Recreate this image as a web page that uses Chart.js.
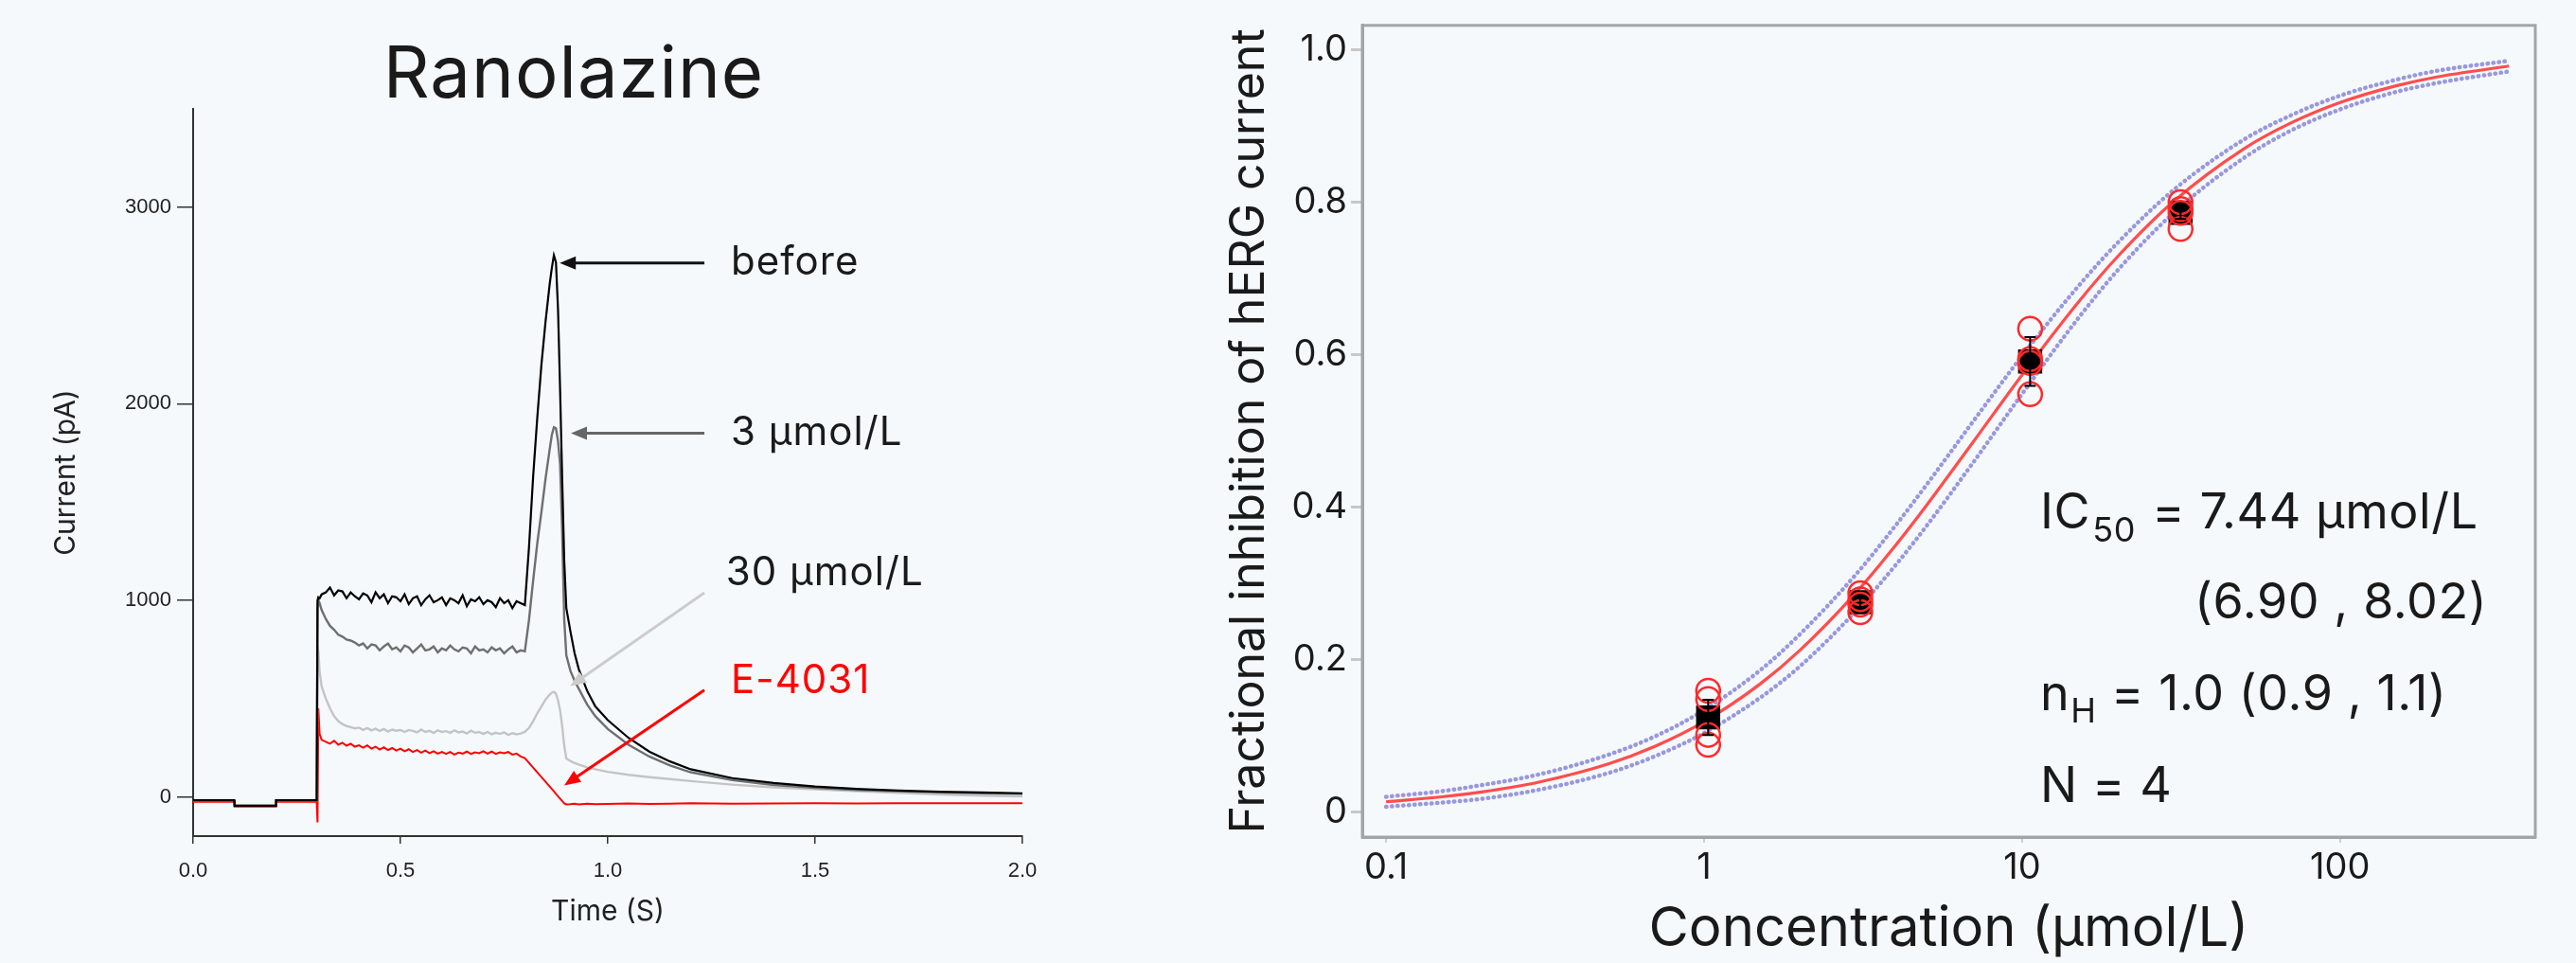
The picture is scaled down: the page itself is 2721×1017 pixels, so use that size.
<!DOCTYPE html>
<html><head><meta charset="utf-8">
<script src="https://cdn.jsdelivr.net/npm/chart.js@4.4.1/dist/chart.umd.min.js"></script>
<style>
html,body{margin:0;padding:0;background:#f6f9fc;width:2721px;height:1017px;overflow:hidden}
#c1{position:absolute;left:0;top:0;width:1150px;height:1017px}
#c2{position:absolute;left:1150px;top:0;width:1571px;height:1017px}
</style></head><body>
<canvas id="c1" width="1150" height="1017"></canvas>
<canvas id="c2" width="1571" height="1017"></canvas>
<script>
// ---------- Left panel data: current traces (pA) vs time (s) ----------
const timeS = [0, 0.099, 0.1, 0.199, 0.2, 0.298, 0.3, 0.302, 0.305, 0.31,
 0.32, 0.33, 0.34, 0.35, 0.36, 0.37, 0.38, 0.39, 0.40,
 0.41, 0.42, 0.43, 0.44, 0.45, 0.46, 0.47, 0.48, 0.49, 0.50,
 0.51, 0.52, 0.53, 0.54, 0.55, 0.56, 0.57, 0.58, 0.59, 0.60,
 0.61, 0.62, 0.63, 0.64, 0.65, 0.66, 0.67, 0.68, 0.69, 0.70,
 0.71, 0.72, 0.73, 0.74, 0.75, 0.76, 0.77, 0.78, 0.79, 0.80,
 0.81, 0.82, 0.83, 0.84, 0.85, 0.86, 0.865, 0.87, 0.875, 0.88, 0.885, 0.89, 0.895, 0.90,
 0.91, 0.92, 0.93, 0.95, 0.97, 1.0, 1.05, 1.1, 1.15, 1.2, 1.3, 1.4, 1.5, 1.6, 1.7, 1.8, 1.9, 2.0];

const beforePA = [-18, -18, -45, -45, -18, -18, 1000, 1015, 1010, 1030,
 1040, 1065, 1025, 1050, 1045, 1010, 1040, 1020, 1005,
 1035, 1025, 990, 1040, 1010, 1030, 985, 1020, 1015, 995,
 1030, 980, 1010, 1020, 975, 1005, 1025, 990, 1000, 1015,
 975, 1010, 1000, 985, 1025, 970, 1005, 995, 1015, 980,
 1000, 990, 965, 1010, 985, 1000, 960, 995, 985, 975,
 1270, 1630, 1930, 2200, 2420, 2610, 2690, 2755, 2720, 2480, 2070, 1620, 1200, 960,
 840, 730, 650, 540, 460, 390, 300, 230, 180, 140, 95, 70, 52, 40, 32, 26, 22, 18];

const uM3PA = [-18, -18, -45, -45, -18, -18, 960, 1000, 985, 950,
 905, 870, 850, 825, 815, 800, 795, 785, 770,
 780, 755, 775, 770, 745, 765, 780, 750, 760, 740,
 770, 760, 735, 755, 775, 745, 750, 765, 735, 755,
 745, 770, 750, 740, 760, 755, 730, 765, 745, 750,
 735, 760, 745, 755, 730, 750, 765, 735, 745, 740,
 900, 1100, 1290, 1450, 1620, 1770, 1840, 1880, 1875, 1810, 1690, 1350, 900, 720,
 640, 590, 550, 470, 410, 345, 265, 205, 160, 125, 85, 60, 45, 35, 28, 22, 18, 15];

const uM30PA = [-18, -18, -45, -45, -18, -18, 760, 740, 640, 560,
 500, 450, 410, 385, 370, 360, 355, 348, 352,
 340, 350, 338, 346, 335, 345, 332, 342, 336, 340,
 330, 340, 335, 328, 342, 330, 336, 325, 338, 330,
 334, 326, 338, 328, 332, 322, 336, 326, 330, 320,
 330, 318, 326, 320, 328, 315, 324, 318, 322, 330,
 350, 385, 425, 460, 495, 520, 530, 534, 525, 490, 440, 360, 260, 195,
 182, 172, 164, 150, 140, 127, 112, 100, 90, 80, 62, 48, 38, 28, 20, 12, 6, 2];

const e4031PA = [-25, -25, -50, -50, -25, -25, -130, 450, 320, 290,
 280, 270, 285, 265, 275, 260, 270, 255, 262,
 250, 262, 245, 255, 240, 252, 238, 248, 235, 245,
 232, 242, 228, 238, 225, 235, 222, 232, 220, 228,
 218, 228, 215, 225, 220, 230, 218, 226, 222, 232,
 220, 230, 218, 226, 222, 228, 215, 220, 205, 197,
 173, 149, 125, 100, 76, 52, 40, 28, 15, 3, -9, -21, -33, -38,
 -37, -35, -38, -35, -37, -36, -34, -36, -35, -33, -35, -34, -32, -34, -33, -32, -33, -32];

const timeTicks = [0, 0.5, 1.0, 1.5, 2.0];
const currentTicks = [0, 1000, 2000, 3000];

// ---------- Right panel data: concentration-response ----------
const concUM = [1.03, 3.1, 10.6, 31.5];
const indivInhib = [
 [0.159, 0.148, 0.101, 0.088],
 [0.287, 0.279, 0.272, 0.262],
 [0.634, 0.594, 0.589, 0.548],
 [0.800, 0.791, 0.786, 0.765]
];
const meanInhib = [0.124, 0.275, 0.591, 0.786];
const semInhib = [0.023, 0.006, 0.032, 0.008];

const fitConc = [0.1, 0.15, 0.2, 0.3, 0.5, 0.7, 1, 1.5, 2, 3, 4, 5, 7, 10, 15, 20, 30, 50, 70, 100, 150, 200, 340];
const fitInhib = [0.0133, 0.0198, 0.0262, 0.0388, 0.0630, 0.0860, 0.1185, 0.1678, 0.2119, 0.2874, 0.3497, 0.4019, 0.4848, 0.5734, 0.6684, 0.7289, 0.8013, 0.8705, 0.9039, 0.9308, 0.9527, 0.9641, 0.9786];
const ciUpper = [0.0198, 0.0273, 0.0352, 0.0488, 0.0750, 0.0990, 0.1335, 0.1858, 0.2329, 0.3114, 0.3757, 0.4289, 0.5118, 0.5984, 0.6894, 0.7469, 0.8163, 0.8825, 0.9139, 0.9398, 0.9607, 0.9721, 0.9856];
const ciLower = [0.0068, 0.0123, 0.0172, 0.0288, 0.0510, 0.0730, 0.1035, 0.1498, 0.1909, 0.2634, 0.3237, 0.3749, 0.4578, 0.5484, 0.6474, 0.7109, 0.7863, 0.8585, 0.8939, 0.9218, 0.9447, 0.9561, 0.9716];

const concTicks = [0.1, 1, 10, 100];
const inhibTicks = [0, 0.2, 0.4, 0.6, 0.8, 1.0];

// ---------- styling ----------
const SANS = "Inter, 'Noto Sans', sans-serif";
const ARIAL = "'Liberation Sans', Arial, sans-serif";
const INK = '#1a1a1a';

function xy(xs, ys){ return xs.map((x,i)=>({x:x, y:ys[i]})); }

function arrow(ctx, x0, y0, x1, y1, color, w){
  const a = Math.atan2(y1-y0, x1-x0), L = 17, H = 7;
  ctx.save();
  ctx.strokeStyle = color; ctx.fillStyle = color; ctx.lineWidth = w;
  ctx.beginPath(); ctx.moveTo(x0, y0);
  ctx.lineTo(x1 - Math.cos(a)*L*0.8, y1 - Math.sin(a)*L*0.8); ctx.stroke();
  ctx.beginPath(); ctx.moveTo(x1, y1);
  ctx.lineTo(x1 - Math.cos(a)*L - Math.sin(a)*H, y1 - Math.sin(a)*L + Math.cos(a)*H);
  ctx.lineTo(x1 - Math.cos(a)*L + Math.sin(a)*H, y1 - Math.sin(a)*L - Math.cos(a)*H);
  ctx.closePath(); ctx.fill();
  ctx.restore();
}

// annotation anchors in data units (time s, current pA)
const leftNotes = [
  {text:'before',    color:INK,    tx:1.297, ty:2716, from:[1.233,2716], to:[0.884,2716], arrowColor:'#111111'},
  {text:'3 µmol/L',  color:INK,    tx:1.297, ty:1850, from:[1.233,1850], to:[0.911,1850], arrowColor:'#666666'},
  {text:'30 µmol/L', color:INK,    tx:1.285, ty:1139, from:[1.233,1038], to:[0.909,562],  arrowColor:'#cccccc'},
  {text:'E-4031',    color:'#ff0000', tx:1.297, ty:587, from:[1.233,543], to:[0.895,58],   arrowColor:'#ff0000'}
];

const leftDecor = {
  id:'leftDecor',
  afterDraw(chart){
    const ctx = chart.ctx, xs = chart.scales.x, ys = chart.scales.y;
    ctx.save();
    ctx.fillStyle = INK;
    ctx.letterSpacing = '1px';
    ctx.font = `400 76px ${SANS}`;
    ctx.textAlign = 'center'; ctx.textBaseline = 'middle';
    ctx.fillText('Ranolazine', 606, 80);
    ctx.font = `400 42px ${SANS}`;
    ctx.textAlign = 'left';
    for (const n of leftNotes){
      arrow(ctx, xs.getPixelForValue(n.from[0]), ys.getPixelForValue(n.from[1]),
                 xs.getPixelForValue(n.to[0]), ys.getPixelForValue(n.to[1]), n.arrowColor, 3);
      ctx.fillStyle = n.color;
      ctx.fillText(n.text, xs.getPixelForValue(n.tx), ys.getPixelForValue(n.ty));
    }
    ctx.restore();
  }
};

new Chart(document.getElementById('c1'), {
  type:'line',
  data:{ datasets:[
    {label:'before', data:xy(timeS, beforePA), borderColor:'#000000', borderWidth:2.2},
    {label:'3 µmol/L', data:xy(timeS, uM3PA), borderColor:'#6f6f6f', borderWidth:2.4},
    {label:'30 µmol/L', data:xy(timeS, uM30PA), borderColor:'#c4c4c4', borderWidth:2.4},
    {label:'E-4031', data:xy(timeS, e4031PA), borderColor:'#ff0000', borderWidth:2}
  ]},
  options:{
    responsive:false, animation:false, devicePixelRatio:1,
    parsing:false,
    elements:{ point:{radius:0}, line:{tension:0, fill:false} },
    layout:{ padding:{left:0, right:70, top:115, bottom:0} },
    plugins:{ legend:{display:false}, tooltip:{enabled:false}, title:{display:false} },
    scales:{
      x:{ type:'linear', min:0, max:2,
        afterBuildTicks:s=>{ s.ticks = timeTicks.map(v=>({value:v})); },
        afterFit:s=>{ s.height = 134; },
        ticks:{ callback:v=>Number(v).toFixed(1), font:{family:ARIAL, size:22}, color:'#222', padding:16, maxRotation:0, autoSkip:false },
        grid:{ display:true, drawOnChartArea:false, drawTicks:true, tickLength:8, color:'#333', lineWidth:1.5 },
        border:{ display:true, color:'#333', width:2 },
        title:{ display:true, text:'Time (S)', font:{family:SANS, size:30}, color:'#222', padding:{top:0, bottom:36} }
      },
      y:{ type:'linear', min:-200, max:3500,
        afterBuildTicks:s=>{ s.ticks = currentTicks.map(v=>({value:v})); },
        afterFit:s=>{ s.width = 204; },
        ticks:{ callback:v=>String(v), font:{family:ARIAL, size:22}, color:'#222', padding:6 },
        grid:{ display:true, drawOnChartArea:false, drawTicks:true, tickLength:17, color:'#333', lineWidth:1.5 },
        border:{ display:true, color:'#333', width:2 },
        title:{ display:true, text:'Current (pA)', font:{family:SANS, size:30}, color:'#222', padding:{top:52, bottom:0} }
      }
    }
  },
  plugins:[leftDecor]
});

// ---------- Right chart ----------
const indivPoints = [];
concUM.forEach((c,i)=>indivInhib[i].forEach(v=>indivPoints.push({x:c, y:v})));

const rightDecor = {
  id:'rightDecor',
  afterDatasetsDraw(chart){
    const ctx = chart.ctx, xs = chart.scales.x, ys = chart.scales.y;
    ctx.save();
    ctx.strokeStyle = '#000'; ctx.lineWidth = 2;
    concUM.forEach((c,i)=>{
      const px = xs.getPixelForValue(c);
      const yt = ys.getPixelForValue(meanInhib[i] + semInhib[i]);
      const yb = ys.getPixelForValue(meanInhib[i] - semInhib[i]);
      ctx.beginPath();
      ctx.moveTo(px, yt); ctx.lineTo(px, yb);
      ctx.moveTo(px-6, yt); ctx.lineTo(px+6, yt);
      ctx.moveTo(px-6, yb); ctx.lineTo(px+6, yb);
      ctx.stroke();
    });
    ctx.restore();
  },
  afterDraw(chart){
    const ctx = chart.ctx, a = chart.chartArea;
    ctx.save();
    ctx.strokeStyle = '#a2a5a8'; ctx.lineWidth = 3;
    ctx.strokeRect(a.left, a.top, a.right - a.left, a.bottom - a.top);
    ctx.fillStyle = INK; ctx.textBaseline = 'alphabetic'; ctx.textAlign = 'left';
    ctx.letterSpacing = '0.6px';
    const big = `400 52px ${SANS}`, small = `400 36px ${SANS}`;
    let x = 1005;
    ctx.font = big; ctx.fillText('IC', x, 558); x += ctx.measureText('IC').width + 2;
    ctx.font = small; ctx.fillText('50', x, 572); x += ctx.measureText('50').width + 2;
    ctx.font = big; ctx.fillText(' = 7.44 µmol/L', x, 558);
    ctx.fillText('(6.90 , 8.02)', 1168, 653);
    x = 1005;
    ctx.fillText('n', x, 750); x += ctx.measureText('n').width + 1;
    ctx.font = small; ctx.fillText('H', x, 763); x += ctx.measureText('H').width;
    ctx.font = big; ctx.fillText(' = 1.0 (0.9 , 1.1)', x, 750);
    ctx.fillText('N = 4', 1005, 847);
    ctx.restore();
  }
};

const bandStyle = {showLine:true, pointRadius:0, borderColor:'rgba(120,120,210,0.75)', borderWidth:4.5,
  borderDash:[0.5,5.5], borderCapStyle:'round', cubicInterpolationMode:'monotone'};

new Chart(document.getElementById('c2'), {
  type:'scatter',
  data:{ datasets:[
    {label:'individual', data:indivPoints, pointStyle:'circle', pointRadius:12.5, pointBorderWidth:2.5,
     pointBorderColor:'#ff2a2a', pointBackgroundColor:'rgba(0,0,0,0)', showLine:false},
    {label:'mean', data:xy(concUM, meanInhib), pointStyle:'rect', pointRadius:18, pointBorderWidth:0,
     pointBackgroundColor:'#000', pointBorderColor:'#000', showLine:false},
    {label:'fit', data:xy(fitConc, fitInhib), showLine:true, pointRadius:0, borderColor:'#ff4d4d', borderWidth:3.2,
     cubicInterpolationMode:'monotone'},
    Object.assign({label:'upper', data:xy(fitConc, ciUpper)}, bandStyle),
    Object.assign({label:'lower', data:xy(fitConc, ciLower)}, bandStyle)
  ]},
  options:{
    responsive:false, animation:false, devicePixelRatio:1,
    layout:{ padding:{left:0, right:43, top:20, bottom:0} },
    plugins:{ legend:{display:false}, tooltip:{enabled:false} },
    scales:{
      x:{ type:'logarithmic', min:0.0842, max:411,
        afterBuildTicks:s=>{ s.ticks = concTicks.map(v=>({value:v})); },
        afterFit:s=>{ s.height = 133; },
        ticks:{ callback:v=>String(v), font:{family:SANS, size:38}, color:INK, padding:4, maxRotation:0, autoSkip:false },
        grid:{ display:true, drawOnChartArea:false, drawTicks:true, tickLength:6, color:'#cfcfcf', lineWidth:2 },
        border:{ display:true, color:'#a2a5a8', width:3 },
        title:{ display:true, text:'Concentration (µmol/L)', font:{family:SANS, size:58}, color:INK, padding:{top:0, bottom:1} }
      },
      y:{ type:'linear', min:-0.033, max:1.032,
        afterBuildTicks:s=>{ s.ticks = inhibTicks.map(v=>({value:v})); },
        afterFit:s=>{ s.width = 289; },
        ticks:{ callback:v=> v===0 ? '0' : Number(v).toFixed(1), font:{family:SANS, size:38}, color:INK, padding:4 },
        grid:{ display:true, drawOnChartArea:false, drawTicks:true, tickLength:12, color:'#c8c8c8', lineWidth:3 },
        border:{ display:true, color:'#a2a5a8', width:3 },
        title:{ display:true, text:'Fractional inhibition of hERG current', font:{family:SANS, size:50}, color:INK, padding:{top:140, bottom:0} }
      }
    }
  },
  plugins:[rightDecor]
});
</script>
</body></html>
